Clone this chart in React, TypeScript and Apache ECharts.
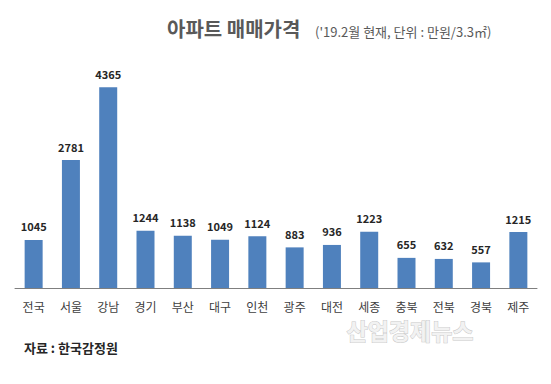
import React, { useEffect, useRef } from "react";
import * as echarts from "echarts";

const categories = ["전국", "서울", "강남", "경기", "부산", "대구", "인천", "광주", "대전", "세종", "충북", "전북", "경북", "제주"];
const prices = [1045, 2781, 4365, 1244, 1138, 1049, 1124, 883, 936, 1223, 655, 632, 557, 1215];

const titleText = "아파트 매매가격";
const subtitleText = "('19.2월 현재, 단위 : 만원/3.3㎡)";
const sourceText = "자료 : 한국감정원";
const watermarkText = "산업경제뉴스";

export default function App() {
  const ref = useRef<HTMLDivElement>(null);
  useEffect(() => {
    if (!ref.current) return;
    const chart = echarts.init(ref.current, null, { renderer: "svg" });
    const font = "'Noto Sans CJK KR', 'Noto Sans', sans-serif";
    chart.setOption({
      animation: false,
      backgroundColor: "#ffffff",
      grid: { left: 15, right: 14, top: 58, bottom: 96, containLabel: false },
      xAxis: {
        type: "category",
        data: categories,
        axisLine: { lineStyle: { color: "#7f7f7f", width: 1 } },
        axisTick: { show: false },
        axisLabel: { color: "#404040", fontSize: 12, fontFamily: font, margin: 12 },
      },
      yAxis: {
        type: "value",
        min: 0,
        max: 5000,
        show: false,
        splitLine: { show: false },
      },
      series: [
        {
          type: "bar",
          data: prices,
          barWidth: 18,
          itemStyle: { color: "#4f81bd" },
          label: {
            show: true,
            position: "top",
            distance: 8,
            color: "#262626",
            fontSize: 11,
            fontWeight: "bold",
            fontFamily: font,
          },
        },
      ],
      graphic: [
        {
          type: "text",
          left: 167,
          top: 18,
          style: { text: titleText, fill: "#595959", fontSize: 20, fontWeight: "bold", fontFamily: font },
        },
        {
          type: "text",
          left: 315,
          top: 25,
          style: { text: subtitleText, fill: "#595959", fontSize: 13, fontFamily: font },
        },
        {
          type: "text",
          left: 346,
          top: 318,
          style: {
            text: watermarkText,
            fill: "#f2f2f2",
            stroke: "#c8c8c8",
            lineWidth: 1,
            fontSize: 23,
            fontWeight: "bold",
            fontFamily: font,
          },
        },
        {
          type: "text",
          left: 24,
          top: 341,
          style: { text: sourceText, fill: "#262626", fontSize: 13, fontWeight: "bold", fontFamily: font },
        },
      ],
    });
    return () => chart.dispose();
  }, []);
  return <div ref={ref} style={{ width: 551, height: 384, position: "absolute", left: 0, top: 0 }} />;
}
